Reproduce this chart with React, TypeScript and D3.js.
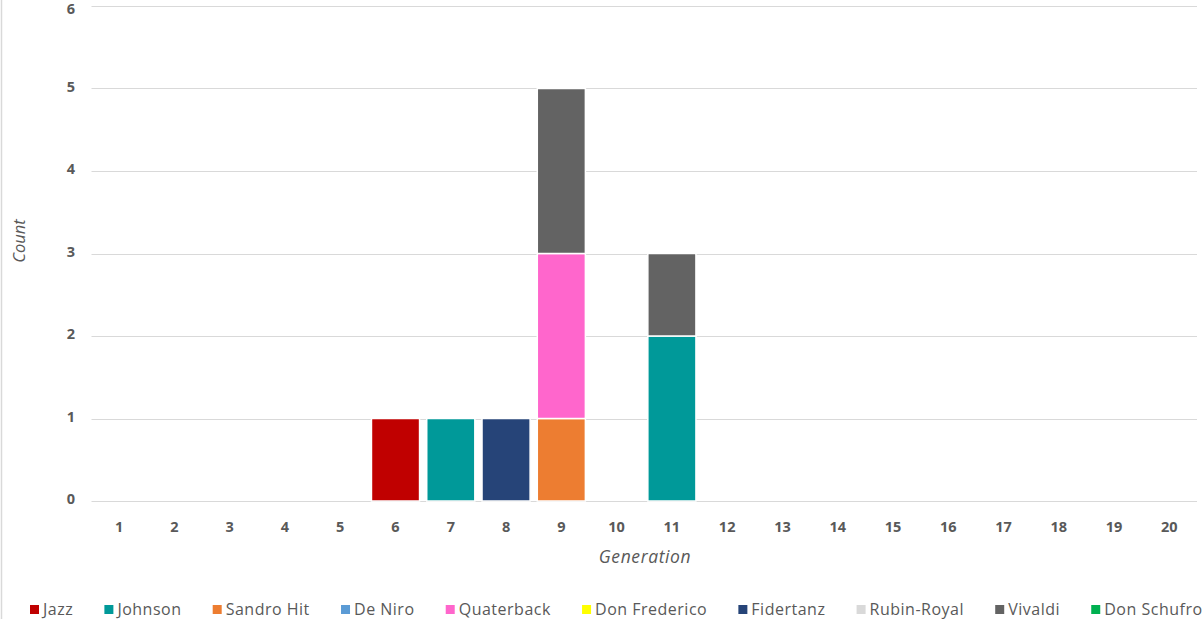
import React, { useEffect, useRef } from "react";
import * as d3 from "d3";

const generations = ["1","2","3","4","5","6","7","8","9","10","11","12","13","14","15","16","17","18","19","20"];
const seriesNames = ["Jazz","Johnson","Sandro Hit","De Niro","Quaterback","Don Frederico","Fidertanz","Rubin-Royal","Vivaldi","Don Schufro"];
const seriesColors = ["#C00000","#009999","#ED7D31","#5B9BD5","#FF66CC","#FFFF00","#264478","#D9D9D9","#636363","#00B050"];
// counts per generation (1..20)
const jazz =         [0,0,0,0,0,1,0,0,0,0,0,0,0,0,0,0,0,0,0,0];
const johnson =      [0,0,0,0,0,0,1,0,0,0,2,0,0,0,0,0,0,0,0,0];
const sandroHit =    [0,0,0,0,0,0,0,0,1,0,0,0,0,0,0,0,0,0,0,0];
const deNiro =       [0,0,0,0,0,0,0,0,0,0,0,0,0,0,0,0,0,0,0,0];
const quaterback =   [0,0,0,0,0,0,0,0,2,0,0,0,0,0,0,0,0,0,0,0];
const donFrederico = [0,0,0,0,0,0,0,0,0,0,0,0,0,0,0,0,0,0,0,0];
const fidertanz =    [0,0,0,0,0,0,0,1,0,0,0,0,0,0,0,0,0,0,0,0];
const rubinRoyal =   [0,0,0,0,0,0,0,0,0,0,0,0,0,0,0,0,0,0,0,0];
const vivaldi =      [0,0,0,0,0,0,0,0,2,0,1,0,0,0,0,0,0,0,0,0];
const donSchufro =   [0,0,0,0,0,0,0,0,0,0,0,0,0,0,0,0,0,0,0,0];
const yTicks = [0,1,2,3,4,5,6];

const seriesValues = [jazz, johnson, sandroHit, deNiro, quaterback, donFrederico, fidertanz, rubinRoyal, vivaldi, donSchufro];

export default function App() {
  const ref = useRef<SVGSVGElement>(null);
  useEffect(() => {
    const svg = d3.select(ref.current);
    svg.selectAll("*").remove();
    const W = 1203, H = 619;
    const left = 91.5, right = 1197, top = 6, bottom = 501;
    const font = "'Open Sans', 'Noto Sans', sans-serif";
    const textColor = "#595959";

    svg.append("rect").attr("width", W).attr("height", H).attr("fill", "#fff");
    svg.append("line").attr("x1", 1.5).attr("x2", 1.5).attr("y1", 0).attr("y2", H).attr("stroke", "#d9d9d9").attr("stroke-width", 1.5);

    const x = d3.scaleBand().domain(generations).range([left, right]).paddingInner(0.13).paddingOuter(0.065);
    const y = d3.scaleLinear().domain([0, 6]).range([bottom, top]);

    // gridlines
    svg.append("g").selectAll("line").data(yTicks).join("line")
      .attr("x1", left).attr("x2", right)
      .attr("y1", d => Math.round(y(d)) + 0.5).attr("y2", d => Math.round(y(d)) + 0.5)
      .attr("stroke", "#d9d9d9").attr("stroke-width", 1);

    // y tick labels
    svg.append("g").selectAll("text").data(yTicks).join("text")
      .attr("x", 75).attr("y", d => Math.max(y(d) - 2, 9)).attr("dy", "0.35em")
      .attr("text-anchor", "end").attr("font-family", font).attr("font-size", 14.5).attr("font-weight", 700)
      .attr("fill", textColor).text(d => String(d));

    // stacked data
    const table = generations.map((g, i) => {
      const row: any = { gen: g };
      seriesNames.forEach((s, k) => { row[s] = seriesValues[k][i]; });
      return row;
    });
    const stack = d3.stack().keys(seriesNames)(table as any);
    const color = d3.scaleOrdinal<string, string>().domain(seriesNames).range(seriesColors);

    const bw = x.bandwidth();
    svg.append("g").selectAll("g").data(stack).join("g")
      .attr("fill", d => color(d.key))
      .selectAll("rect").data(d => d.filter(p => p[1] - p[0] > 0)).join("rect")
      .attr("x", (d: any) => x(d.data.gen)!)
      .attr("y", d => y(d[1]))
      .attr("width", bw)
      .attr("height", d => y(d[0]) - y(d[1]))
      .attr("stroke", "#fff").attr("stroke-width", 1.5);

    // x tick labels
    svg.append("g").selectAll("text").data(generations).join("text")
      .attr("x", d => x(d)! + bw / 2).attr("y", 527).attr("dy", "0.35em")
      .attr("text-anchor", "middle").attr("font-family", font).attr("font-size", 14.5).attr("font-weight", 700)
      .attr("fill", textColor).text(d => d);

    // axis titles
    svg.append("text").attr("x", 645).attr("y", 557).attr("dy", "0.35em")
      .attr("text-anchor", "middle").attr("font-family", font).attr("font-size", 17.5).attr("font-style", "italic")
      .attr("letter-spacing", 0.6)
      .attr("fill", textColor).text("Generation");
    svg.append("text").attr("transform", "translate(19,241) rotate(-90)").attr("dy", "0.35em")
      .attr("text-anchor", "middle").attr("font-family", font).attr("font-size", 16.5).attr("font-style", "italic")
      .attr("fill", textColor).text("Count");

    // legend
    const lg = svg.append("g");
    let cx = 30;
    const ly = 609;
    seriesNames.forEach((s) => {
      lg.append("rect").attr("x", cx).attr("y", ly - 4).attr("width", 9).attr("height", 9).attr("fill", color(s));
      const t = lg.append("text").attr("x", cx + 13).attr("y", ly).attr("dy", "0.35em")
        .attr("font-family", font).attr("font-size", 16).attr("letter-spacing", 0.5).attr("fill", textColor).text(s);
      const w = (t.node() as SVGTextElement).getComputedTextLength();
      cx = cx + 13 + w + 31.2;
    });
  }, []);
  return (
    <svg ref={ref} width={1203} height={619} style={{ position: "absolute", left: 0, top: 0 }} />
  );
}
